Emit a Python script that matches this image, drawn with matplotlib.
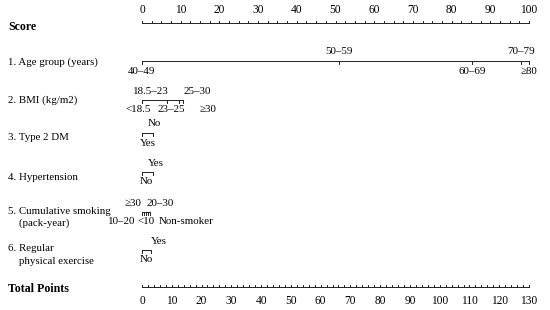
import matplotlib
matplotlib.use("Agg")
import matplotlib.pyplot as plt
import numpy as np

# ---------------- data ----------------
score_max = 100
total_max = 130

age_labels = ["40–49", "50–59", "60–69", "70–79", "≥80"]
age_points = [0, 50.9, 85.4, 97.9, 100]

bmi_labels = ["<18.5", "18.5–23", "23–25", "25–30", "≥30"]
bmi_points = [0, 0, 6.4, 9.6, 10.5]

dm_labels = ["Yes", "No"]
dm_points = [0, 2.9]

ht_labels = ["No", "Yes"]
ht_points = [0, 2.9]

smk_labels = ["Non-smoker", "<10", "10–20", "≥30", "20–30"]
smk_points = [0, 0.6, 1.0, 1.5, 2.1]

ex_labels = ["No", "Yes"]
ex_points = [0, 2.2]

row_labels = ["1. Age group (years)", "2. BMI (kg/m2)", "3. Type 2 DM",
              "4. Hypertension", "5. Cumulative smoking\n    (pack-year)",
              "6. Regular\n    physical exercise"]

# ---------------- layout / style ----------------
PX0, PX_PER = 142.0, 3.87          # pixel x of score 0, pixels per score point
def px2s(px):
    return (px - PX0) / PX_PER

plt.rcParams['font.family'] = ['Liberation Serif', 'DejaVu Serif']
FS_ROW = 7.8
FS_BOLD = 8.6
FS_TICK = 8.3
FS_CAT = 7.9
fig = plt.figure(figsize=(5.5, 3.1), dpi=100)
ax = fig.add_axes([0, 0, 1, 1])
ax.set_xlim(px2s(0), px2s(550))
ax.set_ylim(310, 0)
ax.axis("off")
LW = 0.7
TK = 2.5  # tick length in pixel units
col = "#222222"

def hline(y, x0, x1):
    ax.plot([x0, x1], [y, y], color=col, lw=LW, solid_capstyle="butt")

def ticks(y, xs, direction=1, length=TK):
    for x in xs:
        ax.plot([x, x], [y, y + direction * length], color=col, lw=LW)

# Score axis
y_score = 23
hline(y_score, 0, score_max)
ticks(y_score, np.arange(0, score_max + 0.1, 2.5), direction=-1)
for v in range(0, score_max + 1, 10):
    ax.text(v, 10, str(v), ha="center", va="center", fontsize=FS_TICK)
fig.text(8 / 550, 1 - 27 / 310, "Score", fontsize=FS_BOLD, fontweight="bold", va="center")

# Row labels
row_y = [62, 100, 138, 177, 217.5, 255]
for lab, yy in zip(row_labels, row_y):
    fig.text(8 / 550, 1 - yy / 310, lab, fontsize=FS_ROW, va="center", linespacing=1.45)

def var_axis(y, pts, labels, pos, above, ha=None):
    hline(y, min(pts), max(pts))
    ticks(y, pts, direction=1)
    if ha is None:
        ha = ["center"] * len(labels)
    for lab, p, a, h in zip(labels, pos, above, ha):
        ax.text(p, y - 9 if a else y + 10, lab, ha=h, va="center", fontsize=FS_CAT)

# Age
var_axis(61, age_points, age_labels,
         age_points, [False, True, False, True, False])
# BMI
var_axis(100, bmi_points, bmi_labels,
         [px2s(138.5), px2s(150.8), px2s(171.7), px2s(197.5), px2s(208)],
         [False, True, False, True, False])
# DM
var_axis(133, dm_points, dm_labels, [px2s(147.8), px2s(154.3)], [False, True])
# Hypertension
var_axis(172, ht_points, ht_labels, [px2s(146.7), px2s(155.5)], [False, True])
# Smoking
var_axis(212, smk_points, smk_labels,
         [px2s(158.5), px2s(137.5), px2s(135.5), px2s(133.3), px2s(160.3)],
         [False, False, False, True, True],
         ha=["left", "left", "right", "center", "center"])
# Exercise
var_axis(250, ex_points, ex_labels, [px2s(146), px2s(158.8)], [False, True])

# Total points axis
y_tot = 287
fig.text(8 / 550, 1 - 289 / 310, "Total Points", fontsize=FS_BOLD, fontweight="bold", va="center")
scale = score_max / total_max
hline(y_tot, 0, total_max * scale)
ticks(y_tot, np.arange(0, total_max + 0.1, 2) * scale, direction=-1)
for v in range(0, total_max + 1, 10):
    ax.text(v * scale, 301, str(v), ha="center", va="center", fontsize=FS_TICK)

fig.savefig("out.png", dpi=100)
